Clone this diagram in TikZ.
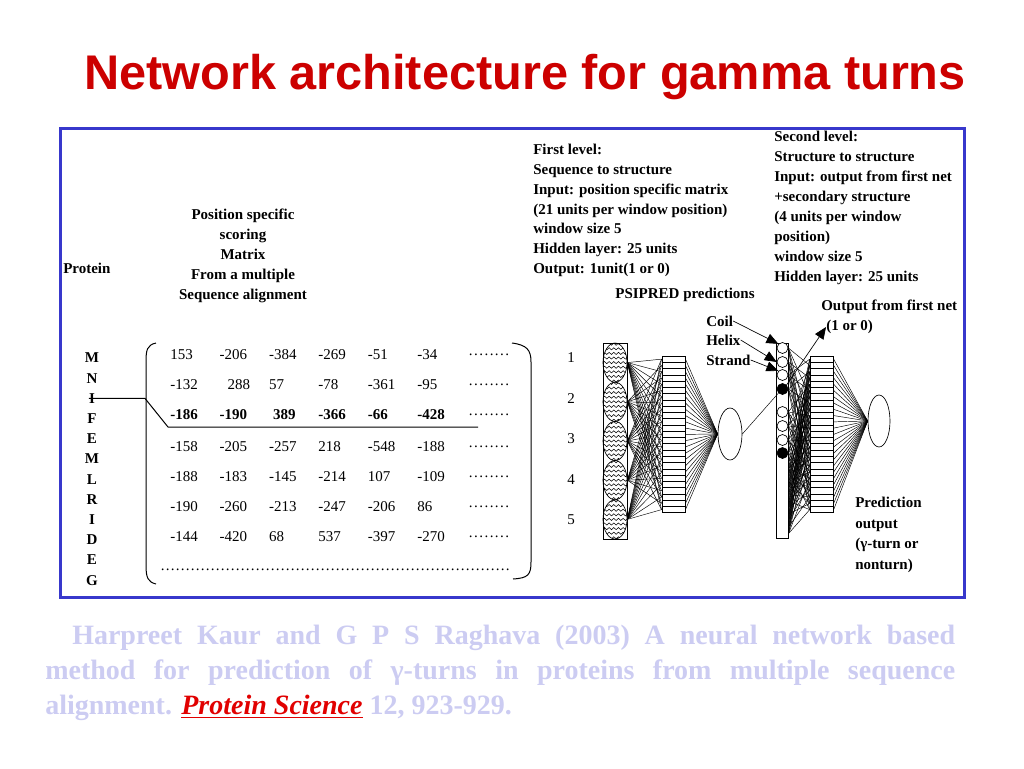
\documentclass[tikz,border=0pt]{standalone}
\usepackage{fontspec}
\setmainfont{Liberation Serif}
\newfontfamily\titlefont{Liberation Sans}
\usetikzlibrary{arrows.meta, shapes.geometric, decorations.pathmorphing}
\definecolor{titlered}{RGB}{204,0,0}
\definecolor{framebl}{RGB}{56,56,204}
\definecolor{citelav}{RGB}{204,204,242}
\definecolor{linkred}{RGB}{225,0,0}

\begin{document}
\begin{tikzpicture}[x=0.75pt,y=-0.75pt]
\tikzset{
 txt/.style={font=\fontsize{11.25}{15}\selectfont\bfseries, inner sep=0pt},
 num/.style={font=\fontsize{11.25}{15}\selectfont, inner sep=0pt, anchor=west},
 cite/.style={font=\fontsize{21}{26}\selectfont\bfseries, text=citelav, inner sep=0pt, anchor=west},
 wire/.style={line width=0.35pt},
 pin/.style={-{Triangle[length=9pt,width=7.5pt]}, line width=0.5pt},
 col/.style={draw, line width=0.6pt, rectangle, inner sep=0pt},
 cell/.style={draw, line width=0.45pt, rectangle, inner sep=0pt, minimum width=17.5pt, minimum height=4.7pt, fill=white},
 winput/.style={draw, line width=0.5pt, ellipse, inner sep=0pt, minimum width=18pt, minimum height=29.4pt},
 unit/.style={draw, line width=0.5pt, circle, inner sep=0pt, minimum size=8.25pt},
 outunit/.style={draw, line width=0.5pt, ellipse, inner sep=0pt, minimum height=39pt},
 wavy/.style={decorate, decoration={snake, amplitude=0.8pt, segment length=3.5pt}, line width=0.4pt},
}
\fill[white] (0,0) rectangle (1024,768);
\useasboundingbox (0,0) rectangle (1024,768);

\node[font=\titlefont\fontsize{36.5}{40}\selectfont\bfseries, text=titlered, inner sep=0pt] (title) at (525,77) {Network architecture for gamma turns};
\draw[framebl, line width=2.25pt] (60,128) rectangle (964,597);

\node[txt, anchor=west] (prot) at (63,268) {Protein};
\node[txt, align=center] (pssm) at (243,256) {Position specific\\scoring\\Matrix\\From a multiple\\Sequence alignment};
\node[txt, anchor=west, align=left, font=\fontsize{11.25}{14.85}\selectfont\bfseries] (lvl1) at (533,210.5) {First level:\\Sequence to structure\\Input: position specific matrix\\(21 units per window position)\\window size 5\\Hidden layer: 25 units\\Output: 1unit(1 or 0)};
\node[txt, anchor=west, align=left] (lvl2) at (774,208) {Second level:\\Structure to structure\\Input: output from first net\\+secondary structure\\(4 units per window\\position)\\window size 5\\Hidden layer: 25 units};
\node[txt] (psipred) at (685,295) {PSIPRED predictions};
\node[txt, anchor=west] (coil) at (706,321) {Coil};
\node[txt, anchor=west] (helix) at (706,340) {Helix};
\node[txt, anchor=west] (strand) at (706,360) {Strand};
\node[txt, anchor=west] (outnet) at (821,307) {Output from first net};
\node[txt, anchor=west] (outval) at (826,327) {(1 or 0)};
\node[txt, anchor=west, align=left, font=\fontsize{11.25}{15.5}\selectfont\bfseries] (pred) at (855,535) {Prediction\\output\\(γ-turn or\\nonturn)};

\foreach \a [count=\k] in {M,N,I,F,E,M,L,R,I,D,E,G}
  \node[txt] (aa\k) at (92,{358+20.2*(\k-1)}) {\a};
\coordinate (kink) at (145,398.4);
\coordinate (cutl) at (168,427);
\coordinate (cutr) at (478,427);
\draw[line width=0.75pt] (aa3.west) -- (kink) -- (cutl) -- (cutr);

\foreach \v [count=\c] in {153,-206,-384,-269,-51,-34}
  \node[num] (m1\c) at ({170+49.4*(\c-1)},355) {\v};
\foreach \v [count=\c] in {-132,{\hspace{6pt}288},57,-78,-361,-95}
  \node[num] (m2\c) at ({170+49.4*(\c-1)},385) {\v};
\foreach \v [count=\c] in {-186,-190,{\hspace{3pt}389},-366,-66,-428}
  \node[num, font=\fontsize{11.25}{15}\selectfont\bfseries] (m3\c) at ({170+49.4*(\c-1)},415) {\v};
\foreach \v [count=\c] in {-158,-205,-257,218,-548,-188}
  \node[num] (m4\c) at ({170+49.4*(\c-1)},447) {\v};
\foreach \v [count=\c] in {-188,-183,-145,-214,107,-109}
  \node[num] (m5\c) at ({170+49.4*(\c-1)},477) {\v};
\foreach \v [count=\c] in {-190,-260,-213,-247,-206,86}
  \node[num] (m6\c) at ({170+49.4*(\c-1)},507) {\v};
\foreach \v [count=\c] in {-144,-420,68,537,-397,-270}
  \node[num] (m7\c) at ({170+49.4*(\c-1)},537) {\v};
\foreach \yy [count=\r] in {355,385,415,447,477,507,537}
  \node[num] (dots\r) at (468,\yy) {\hbox to 35pt{\leaders\hbox to 3.9pt{\hss.\hss}\hfill}};
\node[num] (dots8) at (160,570) {\hbox to 262.5pt{\leaders\hbox to 3.75pt{\hss.\hss}\hfill}};
\draw[line width=0.75pt] (156,343) .. controls (147,345) and (146,350) .. (146,362) -- (146,565) .. controls (146,578) and (148,582) .. (156,584);
\draw[line width=0.75pt] (512,343) .. controls (527,345) and (531,350) .. (531,362) -- (531,562) .. controls (531,575) and (528,578) .. (513,579);

\foreach \k in {1,...,5}
  \node[num, anchor=center] (n\k) at (571,{358+40.4*(\k-1)}) {\k};

\node[col, minimum width=18pt, minimum height=147pt] (c1) at (615,441) {};
\foreach \i in {1,...,5}{
  \pgfmathsetmacro\yc{343+19.6*(2*\i-1)}
  \begin{scope}
    \clip (615,\yc) ellipse [x radius=9pt, y radius=14.7pt];
    \foreach \w in {-4,...,4}
      \draw[wavy] (603,\yc+4.6*\w) -- (627,\yc+4.6*\w);
  \end{scope}
  \node[winput] (p\i) at (615,\yc) {};
}
\foreach \j in {1,...,25}
  \node[cell] (ha\j) at (673.5,{356+6.27*(\j-0.5)}) {};
\node[outunit, minimum width=18pt] (o1) at (730,434) {};
\foreach \i in {1,...,5}
  \foreach \j in {1,...,25}{
    \pgfmathtruncatemacro\r{mod(\i+\j,2)}
    \ifnum\r=0 \draw[wire] (p\i.east) -- (ha\j.west);\fi
  }
\foreach \j in {1,...,25}
  \draw[wire] (ha\j.east) -- (o1.west);

\node[col, minimum width=8.7pt, minimum height=146.25pt] (c2) at (782.5,440.5) {};
\foreach \yy/\ff [count=\k] in {348/white,362/white,375/white,389/black,412/white,426/white,440/white,453/black}
  \node[unit, fill=\ff] (s\k) at (782.5,\yy) {};
\foreach \k in {9,...,20}
  \node[inner sep=0pt, minimum size=0pt] (s\k) at (788.3,{462+6.5*(\k-9)}) {};
\foreach \j in {1,...,25}
  \node[cell] (hb\j) at (821.7,{356+6.27*(\j-0.5)}) {};
\node[outunit, minimum width=16.5pt] (o2) at (879,421) {};
\foreach \k in {1,...,20}
  \foreach \j in {1,...,25}{
    \pgfmathtruncatemacro\r{mod(\k+2*\j,5)}
    \ifnum\r=0 \draw[wire] (s\k.east) -- (hb\j.west);\fi
  }
\foreach \j in {1,...,25}
  \draw[wire] (hb\j.east) -- (o2.west);

\draw[wire] (o1.east) -- (s4.south west);
\draw[pin] (coil.east) -- (s1.north west);
\draw[pin] (helix.east) -- (s2.west);
\draw[pin] (strand.east) -- (s3.north west);
\draw[pin] (s4.north east) -- (outval.west);

\node[cite] (cit1) at (72,638) {\makebox[662.25pt][s]{Harpreet Kaur and G P S Raghava (2003) A neural network based}};
\node[cite] (cit2) at (45,673) {\makebox[682.5pt][s]{method for prediction of γ-turns in proteins from multiple sequence}};
\node[cite] (cit3) at (45,708) {alignment. {\color{linkred}\itshape\underline{Protein Science}} 12, 923-929.};
\end{tikzpicture}
\end{document}
